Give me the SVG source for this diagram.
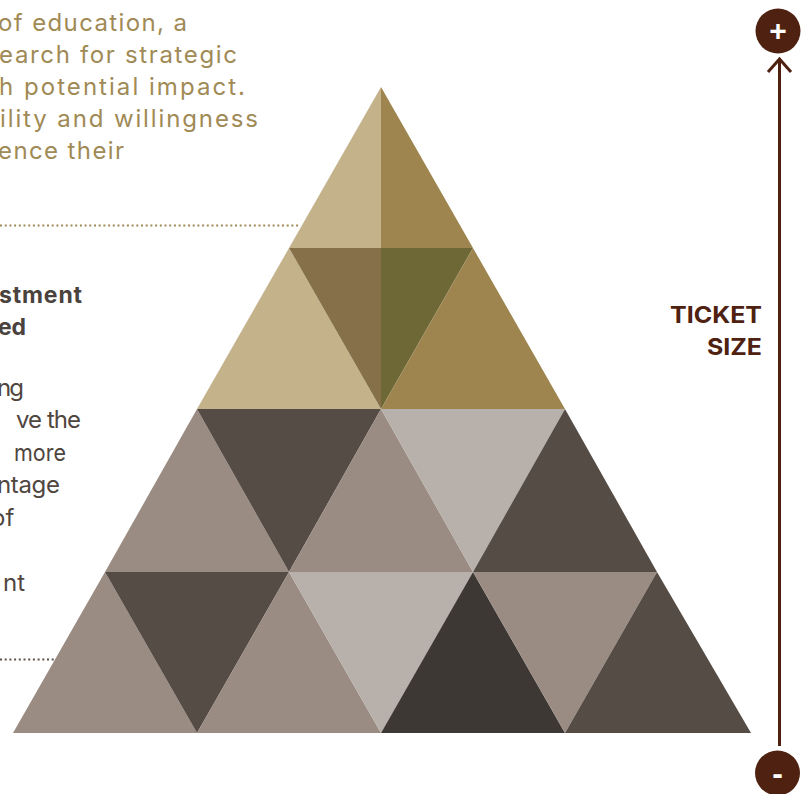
<svg xmlns="http://www.w3.org/2000/svg" width="803" height="794" viewBox="0 0 803 794">
<defs>
<style>
.gold{font-family:"Inter","Noto Sans",sans-serif;font-size:24px;fill:#A08A55}
.dark{font-family:"Inter","Noto Sans",sans-serif;font-size:24px;fill:#4F4640}
.darkb{font-family:"Inter","Noto Sans",sans-serif;font-size:23px;font-weight:bold;fill:#4A423C}
.axis{font-family:"Inter","Liberation Sans",sans-serif;font-size:23px;font-weight:bold;fill:#4E2110;text-anchor:end}
.sign{font-family:"Liberation Sans",sans-serif;font-weight:bold;fill:#ffffff;text-anchor:middle}
.c1{fill:#C4B28B}.c2{fill:#9E854F}.c3{fill:#85704A}.c4{fill:#6D6836}
.g1{fill:#9A8C82}.g2{fill:#554C45}.g3{fill:#B8B0AA}.g4{fill:#3E3834}
.axisline{fill:none;stroke:#4E2110;stroke-width:3}
</style>
</defs>
<rect width="803" height="794" fill="#ffffff"/>

<g id="pyramid">
<polygon class="c1" points="381,87 381,248 289,248"/>
<polygon class="c2" points="381,87 473,248 381,248"/>
<polygon class="c1" points="289,248 197,409 381,409"/>
<polygon class="c3" points="289,248 381,248 381,409"/>
<polygon class="c4" points="381,248 473,248 381,409"/>
<polygon class="c2" points="473,248 381,409 565,409"/>
<polygon class="g1" points="197,409 105,572 289,572"/>
<polygon class="g2" points="197,409 381,409 289,572"/>
<polygon class="g1" points="381,409 289,572 473,572"/>
<polygon class="g3" points="381,409 565,409 473,572"/>
<polygon class="g2" points="565,409 473,572 657,572"/>
<polygon class="g1" points="105,572 13,733 197,733"/>
<polygon class="g2" points="105,572 289,572 197,733"/>
<polygon class="g1" points="289,572 197,733 381,733"/>
<polygon class="g3" points="289,572 473,572 381,733"/>
<polygon class="g4" points="473,572 381,733 565,733"/>
<polygon class="g1" points="473,572 657,572 565,733"/>
<polygon class="g2" points="657,572 565,733 751,733"/>
</g>

<g id="text-top">
<text class="gold" x="-2" y="31" textLength="189" lengthAdjust="spacing">of education, a</text>
<text class="gold" x="-1" y="63" textLength="238" lengthAdjust="spacing">earch for strategic</text>
<text class="gold" x="-1" y="95" textLength="246" lengthAdjust="spacing">h potential impact.</text>
<text class="gold" x="0" y="127" textLength="258" lengthAdjust="spacing">ility and willingness</text>
<text class="gold" x="-2" y="159" textLength="126" lengthAdjust="spacing">ence their</text>
</g>

<g id="text-middle">
<text class="darkb" x="-1" y="303" textLength="83" lengthAdjust="spacing">stment</text>
<text class="darkb" x="-2" y="335" textLength="28" lengthAdjust="spacing">ed</text>
<text class="dark" x="-3" y="396" textLength="27" lengthAdjust="spacing">ng</text>
<text class="dark" x="16" y="428" textLength="65" lengthAdjust="spacing">ve the</text>
<text class="dark" x="14" y="461" textLength="52" lengthAdjust="spacingAndGlyphs">more</text>
<text class="dark" x="-3" y="493" textLength="63" lengthAdjust="spacing">ntage</text>
<text class="dark" x="-9" y="526">of</text>
<text class="dark" x="3" y="591">nt</text>
</g>

<g id="connectors">
<line x1="0" y1="225.5" x2="300" y2="225.5" stroke="#A08A55" stroke-width="2" stroke-dasharray="2 2.7"/>
<line x1="0" y1="659.5" x2="56" y2="659.5" stroke="#5A5048" stroke-width="2" stroke-dasharray="2 2.7"/>
<line class="axisline" x1="779.5" y1="746" x2="779.5" y2="59"/>
<polyline class="axisline" points="768,72 779.5,59 791,72"/>
</g>

<g id="axis-label">
<text class="axis" x="762" y="323" textLength="92" lengthAdjust="spacingAndGlyphs">TICKET</text>
<text class="axis" x="762" y="355" textLength="55" lengthAdjust="spacingAndGlyphs">SIZE</text>
</g>

<g id="plus">
<circle cx="778" cy="31" r="22.5" fill="#4E2110"/>
<text class="sign" x="778" y="41" font-size="30">+</text>
</g>

<g id="minus">
<circle cx="777.5" cy="773" r="22.5" fill="#4E2110"/>
<text class="sign" x="777.5" y="784" font-size="32">-</text>
</g>
</svg>
